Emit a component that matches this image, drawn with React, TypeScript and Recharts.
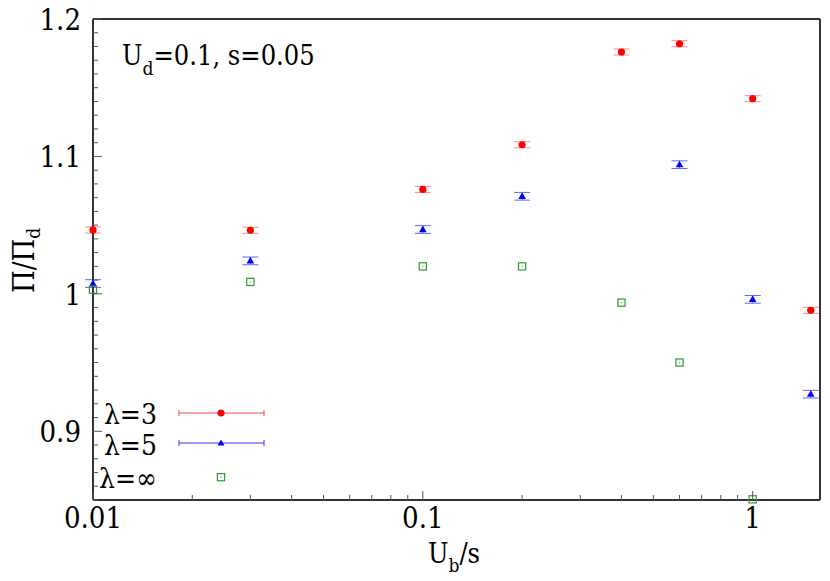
import { ScatterChart, Scatter, XAxis, YAxis, ErrorBar } from "recharts";

const U_B = [0.01, 0.03, 0.1, 0.2, 0.4, 0.6, 1, 1.5];
const LAMBDA3 = [1.0465, 1.0463, 1.076, 1.1085, 1.176, 1.182, 1.142, 0.988];
const LAMBDA3_ERR = [0.0022, 0.0022, 0.0022, 0.0022, 0.0022, 0.0022, 0.0022, 0.0022];
const LAMBDA5 = [1.0075, 1.024, 1.0468, 1.071, null, 1.094, 0.996, 0.927];
const LAMBDA5_ERR = [0.0028, 0.0028, 0.0028, 0.0028, null, 0.0028, 0.0028, 0.0028];
const LAMBDA_INF = [1.003, 1.0087, 1.02, 1.02, 0.9936, 0.95, 0.8505, null];

const X_MAJOR = [0.01, 0.1, 1];
const X_MINOR = [0.02, 0.03, 0.04, 0.05, 0.06, 0.07, 0.08, 0.09, 0.2, 0.3, 0.4, 0.5, 0.6, 0.7, 0.8, 0.9];
const Y_MAJOR = [0.9, 1, 1.1, 1.2];
const Y_TICKS = Array.from({ length: 36 }, (_, i) => Math.round(85 + i) / 100);
const X_TICKS = [...X_MAJOR, ...X_MINOR].sort((a, b) => a - b);

const FRAME = "#333";
const TICK = "#555";
const txt = {
  fontFamily: "'DejaVu Serif Condensed', 'DejaVu Serif', serif",
  fontStretch: "condensed",
};
const BIG = 29;
const NOTE = 27;
const SUB = 19;

type Pt = { x: number; y: number; err?: number };
const toPoints = (ys: (number | null)[], errs?: (number | null)[]): Pt[] =>
  U_B.flatMap((x, i) => {
    const y = ys[i];
    if (y == null) return [];
    return [{ x, y, err: errs ? errs[i] ?? 0 : 0 }];
  });

const red = toPoints(LAMBDA3, LAMBDA3_ERR);
const blue = toPoints(LAMBDA5, LAMBDA5_ERR);
const green = toPoints(LAMBDA_INF);

function XTick({ x, y, payload, top }: any) {
  const v = payload?.value;
  const major = X_MAJOR.includes(v);
  const len = major ? 9 : 5;
  const dir = top ? 1 : -1;
  return (
    <g>
      <line x1={x} x2={x} y1={y} y2={y + dir * len} stroke={TICK} strokeWidth={1} />
      {major && !top && (
        <text x={x} y={y + 28} textAnchor="middle" fontSize={BIG} style={txt} fill="#000">
          {String(v)}
        </text>
      )}
    </g>
  );
}

function YTick({ x, y, payload, right }: any) {
  const v = payload?.value;
  const major = Y_MAJOR.includes(v);
  const len = major ? 9 : 5;
  const dir = right ? -1 : 1;
  return (
    <g>
      <line x1={x} x2={x + dir * len} y1={y} y2={y} stroke={TICK} strokeWidth={1} />
      {major && !right && (
        <text x={x - 12} y={y + 11} textAnchor="end" fontSize={BIG} style={txt} fill="#000">
          {String(v)}
        </text>
      )}
    </g>
  );
}

const Circle = (p: any) => <circle cx={p.cx} cy={p.cy} r={3.6} fill="#ff0000" />;
const Triangle = (p: any) => (
  <path d={`M${p.cx},${p.cy - 4} L${p.cx + 3.8},${p.cy + 2.6} L${p.cx - 3.8},${p.cy + 2.6} Z`} fill="#0000ff" />
);
const Square = (p: any) => (
  <g>
    <rect x={p.cx - 3.6} y={p.cy - 3.6} width={7.2} height={7.2} fill="none" stroke="#339933" strokeWidth={1.2} />
    <rect x={p.cx - 0.5} y={p.cy - 0.5} width={1} height={1} fill="#339933" />
  </g>
);

function Overlay() {
  return (
    <svg width={830} height={581} style={{ position: "absolute", left: 0, top: 0, pointerEvents: "none" }}>
      <text x={122} y={65} fontSize={NOTE} style={txt}>
        U<tspan fontSize={SUB} dy={10}>d</tspan>
        <tspan dy={-10}>=0.1, s=0.05</tspan>
      </text>
      <text x={428} y={563} fontSize={NOTE} style={txt}>
        U<tspan fontSize={SUB} dy={9}>b</tspan>
        <tspan dy={-9}>/s</tspan>
      </text>
      <text transform="translate(34,293) rotate(-90)" fontSize={BIG} style={txt}>
        Π/Π<tspan fontSize={SUB} dy={6}>d</tspan>
      </text>

      <g fontSize={28} style={txt}>
        <text x={157} y={424} textAnchor="end">λ=3</text>
        <text x={157} y={455} textAnchor="end">λ=5</text>
        <text x={157} y={488} textAnchor="end">λ=∞</text>
      </g>
      <g stroke="#ff4444" strokeWidth={1}>
        <line x1={179} x2={264} y1={413} y2={413} />
        <line x1={179} x2={179} y1={410} y2={416} />
        <line x1={264} x2={264} y1={410} y2={416} />
      </g>
      <circle cx={221} cy={413} r={3.6} fill="#ff0000" />
      <g stroke="#3333ff" strokeWidth={1}>
        <line x1={179} x2={264} y1={443} y2={443} />
        <line x1={179} x2={179} y1={440} y2={446} />
        <line x1={264} x2={264} y1={440} y2={446} />
      </g>
      <path d="M221,439.5 L224.5,445.5 L217.5,445.5 Z" fill="#0000ff" />
      <rect x={217.4} y={473.6} width={7.2} height={7.2} fill="none" stroke="#339933" strokeWidth={1.2} />
      <rect x={220.5} y={476.7} width={1} height={1} fill="#339933" />
    </svg>
  );
}

export default function App() {
  return (
    <div style={{ position: "absolute", left: 0, top: 0, width: 830, height: 581, background: "#fff" }}>
      <ScatterChart width={830} height={581} margin={{ top: 0, right: 0, bottom: 0, left: 0 }}>
        <XAxis
          dataKey="x"
          type="number"
          scale="log"
          domain={[0.01, 1.6]}
          ticks={X_TICKS}
          interval={0}
          height={81}
          tickSize={0}
          tickMargin={0}
          tickLine={false}
          axisLine={{ stroke: FRAME, strokeWidth: 2 }}
          tick={<XTick />}
        />
        <XAxis
          xAxisId="top"
          orientation="top"
          dataKey="x"
          type="number"
          scale="log"
          domain={[0.01, 1.6]}
          ticks={X_TICKS}
          interval={0}
          height={19}
          tickSize={0}
          tickMargin={0}
          tickLine={false}
          axisLine={{ stroke: FRAME, strokeWidth: 2 }}
          tick={<XTick top />}
        />
        <YAxis
          dataKey="y"
          type="number"
          domain={[0.85, 1.2]}
          ticks={Y_TICKS}
          interval={0}
          width={93}
          tickSize={0}
          tickMargin={0}
          tickLine={false}
          axisLine={{ stroke: FRAME, strokeWidth: 2 }}
          tick={<YTick />}
        />
        <YAxis
          yAxisId="right"
          orientation="right"
          dataKey="y"
          type="number"
          domain={[0.85, 1.2]}
          ticks={Y_TICKS}
          interval={0}
          width={10}
          tickSize={0}
          tickMargin={0}
          tickLine={false}
          axisLine={{ stroke: FRAME, strokeWidth: 2 }}
          tick={<YTick right />}
        />
        <Scatter data={red} shape={Circle} isAnimationActive={false}>
          <ErrorBar dataKey="err" direction="y" width={8} stroke="#ff8888" strokeWidth={1} isAnimationActive={false} />
        </Scatter>
        <Scatter data={blue} shape={Triangle} isAnimationActive={false}>
          <ErrorBar dataKey="err" direction="y" width={8} stroke="#6666ff" strokeWidth={1} isAnimationActive={false} />
        </Scatter>
        <Scatter data={green} shape={Square} isAnimationActive={false} />
      </ScatterChart>
      <Overlay />
    </div>
  );
}
